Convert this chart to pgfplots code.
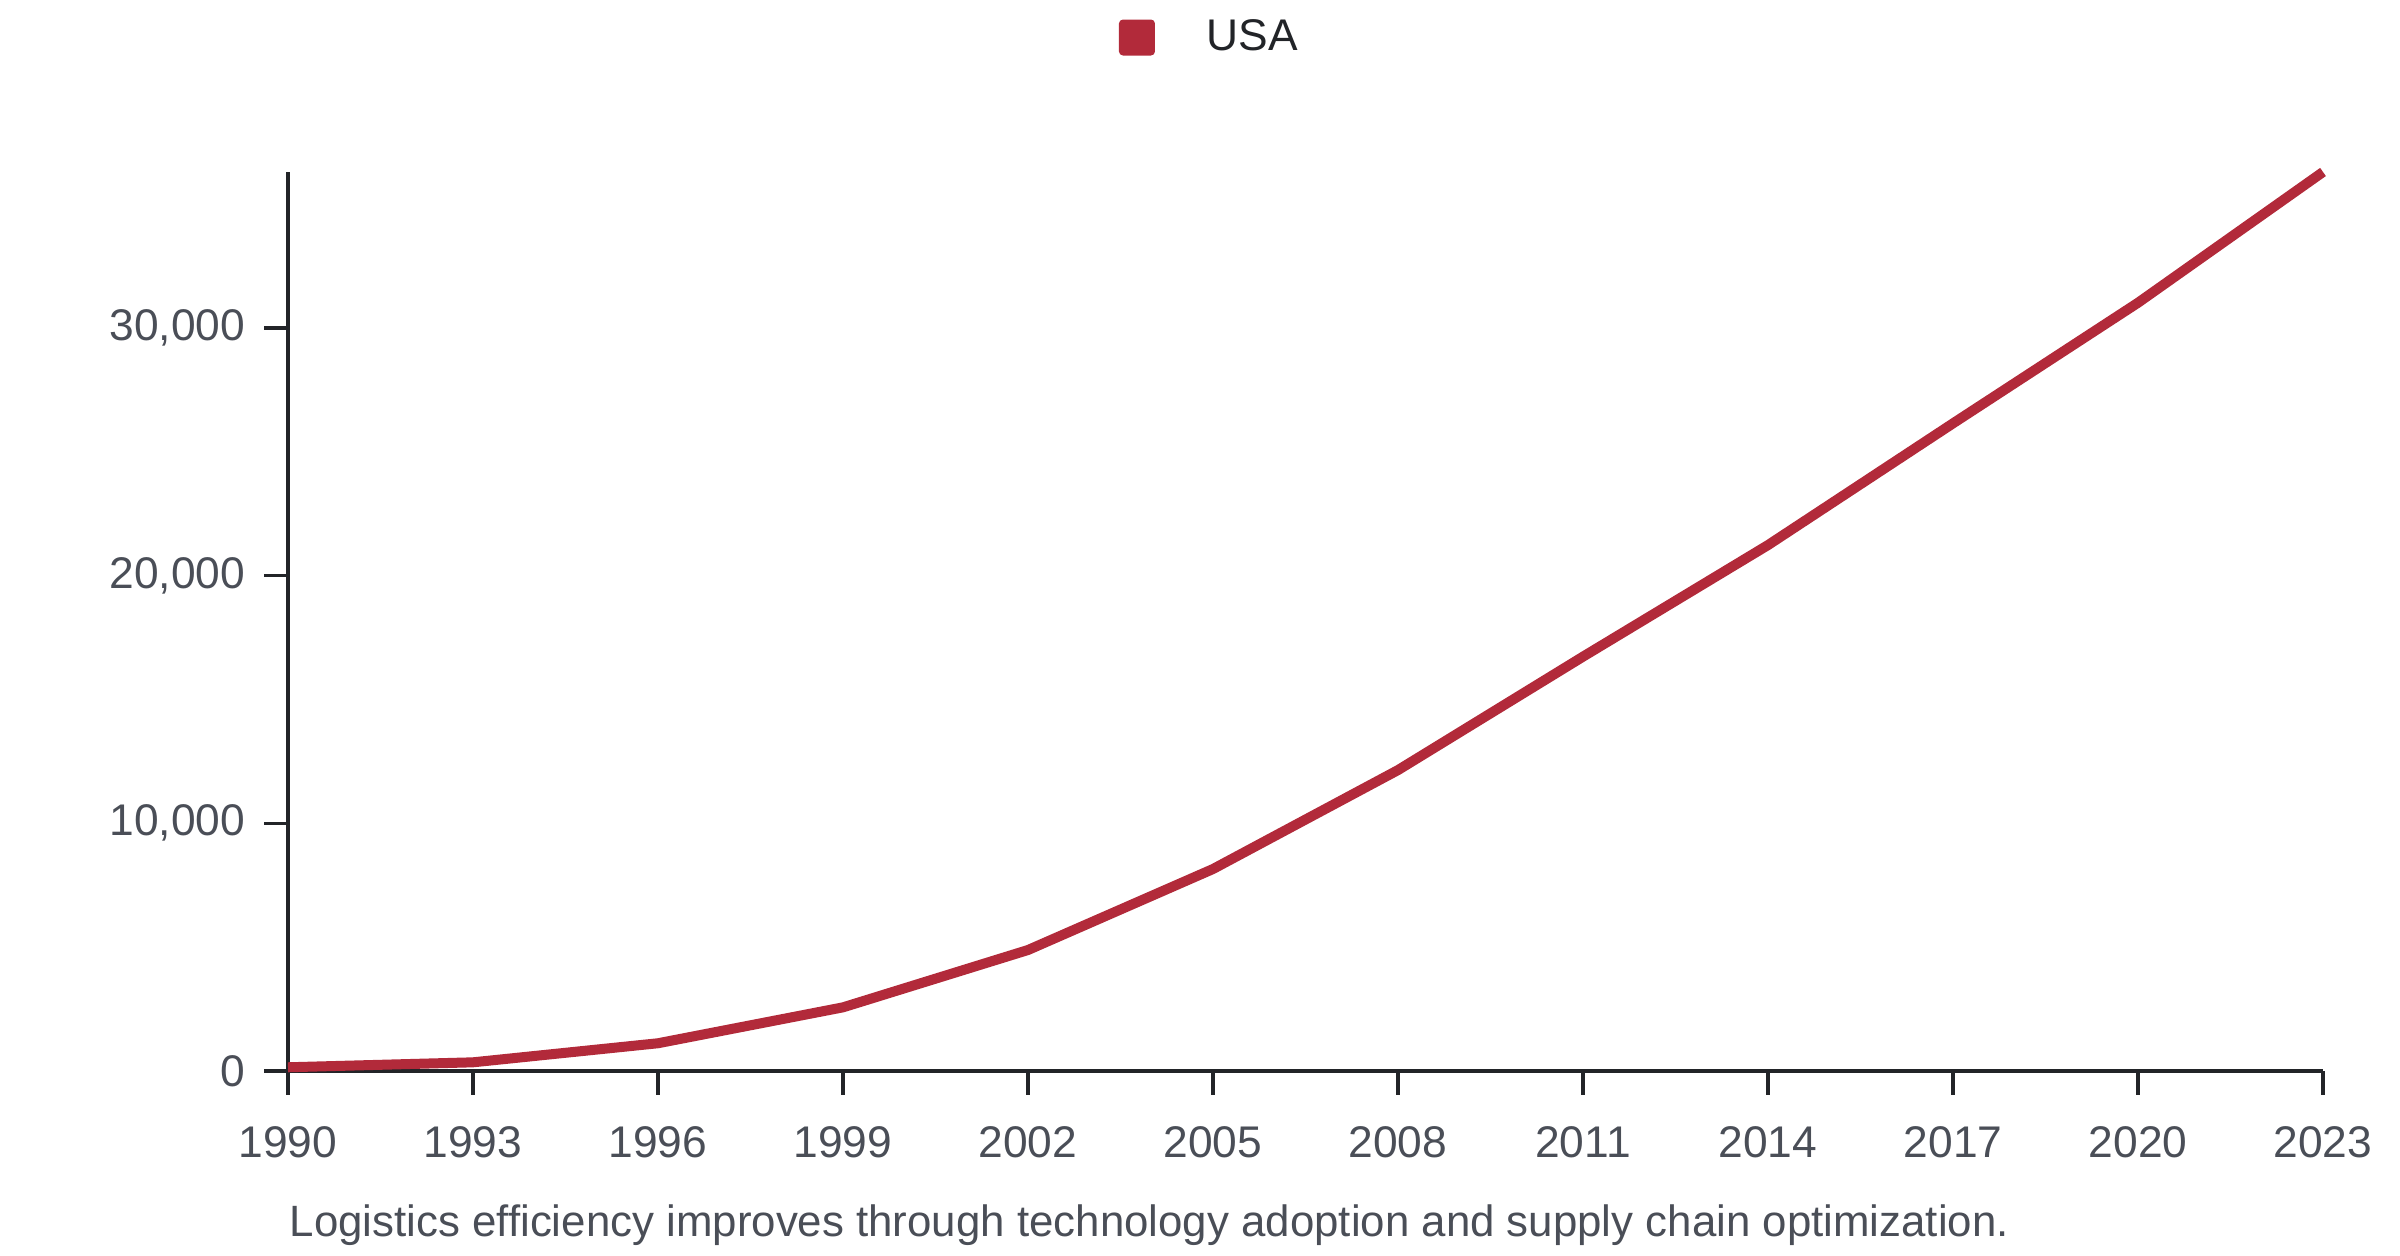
\documentclass[border=0pt]{standalone}
\usepackage{pgfplots}
\pgfplotsset{compat=1.18}
\usepackage{fontspec}
\setmainfont{Liberation Sans}
\definecolor{usared}{HTML}{B22A3A}
\definecolor{txtgray}{HTML}{4A4E57}
\definecolor{axisdark}{HTML}{222428}
\pgfplotstableread{
year value
1990 150
1993 350
1996 1120
1999 2570
2002 4885
2005 8155
2008 12150
2011 16730
2014 21235
2017 26150
2020 31020
2023 36300
}\usadata
\begin{document}
\begin{tikzpicture}
\useasboundingbox (0,0) rectangle (720pt,376.8pt);
\begin{axis}[
  at={(86.4pt,55.5pt)}, anchor=south west,
  scale only axis, width=610.5pt, height=269.7pt,
  xmin=1990, xmax=2023, ymin=0, ymax=36300,
  axis x line=bottom, axis y line=left,
  axis line style={-, axisdark, line width=1pt},
  xtick={1990,1993,...,2023},
  ytick={0,10000,20000,30000},
  scaled y ticks=false,
  tick align=outside,
  major tick length=7.2pt,
  tick style={axisdark, line width=1pt},
  x tick label style={/pgf/number format/1000 sep={}, yshift=-6pt},
  y tick label style={/pgf/number format/1000 sep={,}, xshift=-2.1pt},
  /pgf/number format/assume math mode=true,
  tick label style={font=\fontsize{13.3}{15}\selectfont, text=txtgray},
  clip=false,
  legend style={at={(axis description cs:0.408,1.1496)}, anchor=west, draw=none, fill=none, inner sep=0pt,
    font=\fontsize{13.3}{15}\selectfont, text=axisdark},
  legend image code/.code={\fill[draw=none, line width=0pt, rounded corners=1.2pt] (0pt,-5.4pt) rectangle (10.8pt,5.4pt); \path[draw=none, fill=none] (10.8pt,0pt) -- (24.3pt,0pt);},
]
\addplot[usared, line width=3pt, line join=round] table[x=year,y=value] {\usadata};
\addlegendentry{USA}
\node[anchor=base west, inner sep=0pt, font=\fontsize{13.15}{15}\selectfont, text=txtgray] at (rel axis cs:0,0) [yshift=-49.7pt, xshift=0.3pt] {Logistics efficiency improves through technology adoption and supply chain optimization.};
\end{axis}
\end{tikzpicture}
\end{document}
